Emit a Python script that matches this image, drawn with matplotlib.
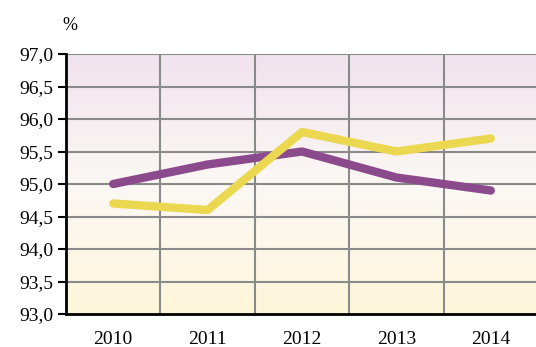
import numpy as np
import matplotlib.pyplot as plt
from matplotlib.colors import LinearSegmentedColormap

# yearly shares, %
years = ['2010', '2011', '2012', '2013', '2014']
purple_vals = [95.0, 95.3, 95.5, 95.1, 94.9]
yellow_vals = [94.7, 94.6, 95.8, 95.5, 95.7]
yticks = [93.0, 93.5, 94.0, 94.5, 95.0, 95.5, 96.0, 96.5, 97.0]

plt.rcParams['font.family'] = ['Liberation Serif', 'DejaVu Serif']

fig = plt.figure(figsize=(5.36, 3.47), dpi=100)
ax = fig.add_axes([66 / 536, 1 - 314 / 347, (538 - 66) / 536, 260 / 347])

# soft background gradient, lavender on top fading to cream at the bottom
bg = LinearSegmentedColormap.from_list('bg', ['#fef6da', '#fbf8f4', '#f1e3ee'])
grad = np.linspace(0, 1, 256).reshape(-1, 1)
ax.imshow(grad, cmap=bg, aspect='auto', origin='lower',
          extent=[-0.5, 4.5, 93.0, 97.0], zorder=0)

x = np.arange(len(years))
ax.plot(x, purple_vals, color='#8b4a8b', lw=6, solid_capstyle='round',
        solid_joinstyle='round', zorder=3)
ax.plot(x, yellow_vals, color='#ecd850', lw=6, solid_capstyle='round',
        solid_joinstyle='round', zorder=3)

ax.set_xlim(-0.5, 4.5)
ax.set_ylim(93.0, 97.0)

# grid between categories, horizontal at each tick
for xv in np.arange(0.5, 4.5, 1.0):
    ax.axvline(xv, color='#8a8a8a', lw=1.5, zorder=1)
for yv in yticks[1:]:
    ax.axhline(yv, color='#8a8a8a', lw=1.5, zorder=1)

ax.set_xticks(x)
ax.set_xticklabels(years, fontsize=14)
ax.tick_params(axis='x', length=0, pad=12)
ax.set_yticks(yticks)
ax.set_yticklabels([f'{v:.1f}'.replace('.', ',') for v in yticks], fontsize=14)
ax.tick_params(axis='y', length=6, width=1.5, direction='out', pad=3)

for s in ['top', 'right']:
    ax.spines[s].set_visible(False)
ax.spines['left'].set_linewidth(2)
ax.spines['bottom'].set_linewidth(2)

fig.text(62 / 536, 1 - 25 / 347, '%', fontsize=13, ha='left', va='center')

fig.savefig('out.png', dpi=100)
